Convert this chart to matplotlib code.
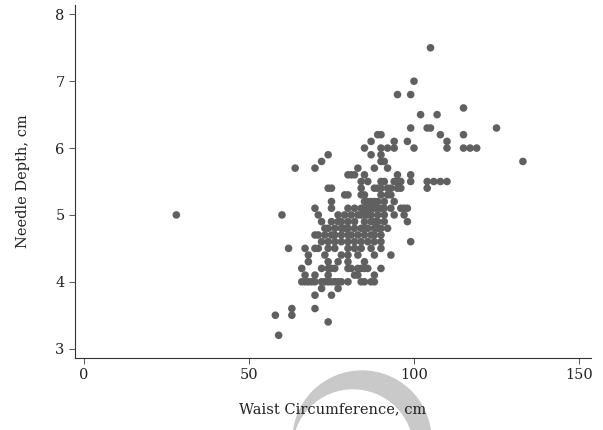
import matplotlib
matplotlib.use("Agg")
import matplotlib.pyplot as plt
from matplotlib.patches import Circle

# Needle depth levels (cm) and the waist circumferences (cm) read at each level
depth_levels = [7.5, 7.0, 6.8, 6.6, 6.5, 6.3, 6.2, 6.1, 6.0, 5.9, 5.8, 5.7, 5.6,
                5.5, 5.4, 5.3, 5.2, 5.1, 5.0, 4.9, 4.8, 4.7, 4.6, 4.5, 4.4,
                4.3, 4.2, 4.1, 4.0, 3.9, 3.8, 3.6, 3.5, 3.4, 3.2]
waist_rows = [
    [105],
    [100],
    [95, 99],
    [115],
    [102, 107],
    [99, 104, 105, 125],
    [89, 90, 108, 115],
    [87, 94, 98, 110],
    [85, 90, 92, 94, 100, 110, 115, 117, 119],
    [74, 87, 90],
    [72, 90, 91, 133],
    [64, 70, 83, 88, 92],
    [80, 81, 82, 85, 95, 99],
    [84, 86, 90, 91, 94, 95, 96, 99, 104, 106, 108, 110],
    [74, 75, 84, 88, 89, 90, 92, 93, 95, 96, 104],
    [79, 80, 84, 85, 90, 92, 93],
    [75, 85, 86, 87, 88, 89, 91, 94],
    [70, 75, 80, 82, 84, 85, 86, 87, 88, 89, 90, 91, 93, 96, 97, 98],
    [28, 60, 71, 77, 79, 81, 83, 84, 85, 86, 87, 89, 91, 94, 97],
    [72, 75, 77, 78, 80, 82, 85, 87, 88, 89, 91, 98],
    [73, 74, 76, 78, 79, 80, 82, 84, 85, 86, 88, 89, 90, 92],
    [70, 71, 73, 75, 76, 78, 80, 81, 83, 85, 87, 88, 90],
    [72, 74, 76, 78, 80, 82, 84, 86, 88, 90, 99],
    [62, 67, 70, 71, 74, 76, 80, 82, 84, 87, 90],
    [68, 73, 78, 80, 83, 88, 93],
    [68, 74, 77, 80, 85],
    [66, 72, 74, 75, 76, 80, 81, 83, 84, 85, 86, 90],
    [67, 70, 74, 82, 83, 88],
    [66, 67, 68, 69, 70, 72, 73, 74, 75, 76, 77, 78, 80, 84, 85, 87, 88],
    [72, 77],
    [70, 75],
    [63, 70],
    [58, 63],
    [74],
    [59],
]
x_ticks = [0, 50, 100, 150]
y_ticks = [3, 4, 5, 6, 7, 8]

waist = []
depth = []
for level, row in zip(depth_levels, waist_rows):
    for w in row:
        waist.append(w)
        depth.append(level)

plt.rcParams['font.family'] = 'DejaVu Serif'
plt.rcParams['font.size'] = 10

fig = plt.figure(figsize=(6.03, 4.3), dpi=100)
ax = fig.add_axes([0.1244, 0.1674, 0.855, 0.821])
ax.patch.set_alpha(0)

# light grey watermark crescent behind the x label
outer = Circle((362, 430 - 440), 69, transform=None, color='#c9c9c9', zorder=-2)
inner = Circle((353, 430 - 450), 60, transform=None, color='white', zorder=-1)
fig.patches.extend([outer, inner])

ax.scatter(waist, depth, s=30, color='#606060', edgecolors='none', zorder=3)

ax.set_xlim(-2.7, 153.5)
ax.set_ylim(2.86, 8.14)
ax.set_xticks(x_ticks)
ax.set_yticks(y_ticks)
ax.spines['top'].set_visible(False)
ax.spines['right'].set_visible(False)
for side in ['left', 'bottom']:
    ax.spines[side].set_linewidth(0.8)
    ax.spines[side].set_color('#333333')
ax.tick_params(length=4, width=0.7, color='#555555', labelcolor='#222222',
               labelsize=10.5)

ax.set_xlabel('Waist Circumference, cm', labelpad=14, color='#222222',
              fontsize=10.5)
ax.set_ylabel('Needle Depth, cm', labelpad=18, color='#222222', fontsize=10.5)

fig.savefig('out.png', dpi=100)
